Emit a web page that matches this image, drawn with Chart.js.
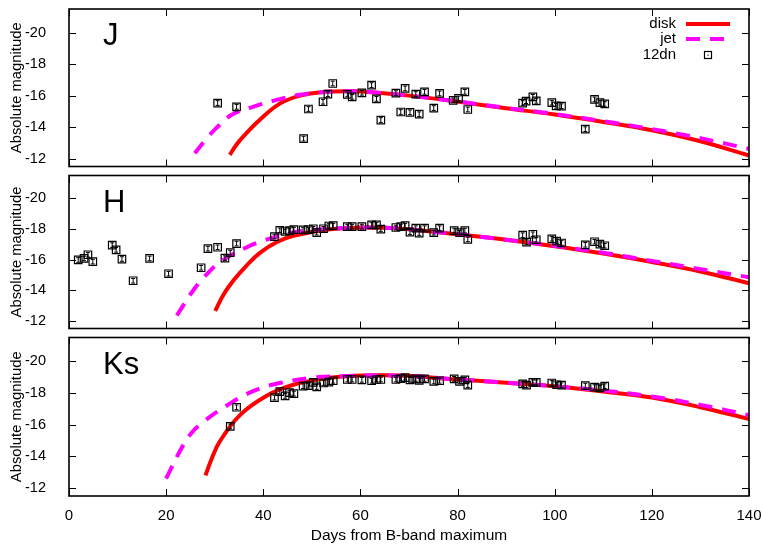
<!DOCTYPE html>
<html>
<head>
<meta charset="utf-8">
<script src="https://cdn.jsdelivr.net/npm/chart.js@4.4.0/dist/chart.umd.min.js"></script>
<style>
  html, body { margin: 0; padding: 0; background: #fff; }
  #wrap { position: relative; width: 763px; height: 545px; }
  canvas { position: absolute; left: 0; }
</style>
</head>
<body>
<div id="wrap">
  <canvas id="panelJ" width="763" height="173" style="top:0px"></canvas>
  <canvas id="panelH" width="763" height="166" style="top:169px"></canvas>
  <canvas id="panelKs" width="763" height="214" style="top:331px"></canvas>
</div>
<script>
// axis ticks
const xTicks = [0, 20, 40, 60, 80, 100, 120, 140];
const yTicks = [-20, -18, -16, -14, -12];
const ERR = 0.15; // typical photometric error (mag)

// J band observations (12dn)
const jDays = [30.6, 34.5, 48.3, 49.3, 52.3, 53.3, 54.3, 57.3, 58.3, 60.3, 62.3, 63.3, 64.2, 67.3, 68.3, 69.2, 70.2, 71.4, 72.1, 73.2, 75.1, 76.3, 79.1, 80.2, 81.5, 82.1, 93.4, 94.1, 95.5, 96.2, 99.4, 100.3, 101.4, 106.3, 108.2, 109.3, 110.3];
const jMag = [-15.53, -15.29, -13.27, -15.15, -15.61, -16.10, -16.77, -16.08, -15.92, -16.18, -16.67, -15.79, -14.45, -16.16, -14.96, -16.46, -14.94, -16.10, -14.82, -16.24, -15.21, -16.14, -15.70, -15.82, -16.24, -15.12, -15.53, -15.65, -15.92, -15.67, -15.55, -15.35, -15.33, -13.87, -15.76, -15.55, -15.47];

// H band observations
const hDays = [1.9, 3.1, 3.9, 4.9, 8.9, 9.7, 10.9, 13.2, 16.6, 20.5, 27.2, 28.6, 30.6, 32.1, 33.2, 34.5, 42.3, 43.4, 44.5, 45.4, 46.3, 48.2, 49.3, 50.3, 51.0, 52.4, 53.5, 54.4, 57.3, 58.3, 60.3, 62.3, 63.3, 64.2, 67.3, 68.3, 69.2, 70.2, 71.4, 72.1, 73.2, 75.1, 76.3, 79.3, 80.4, 81.5, 82.1, 93.4, 94.2, 95.5, 96.2, 99.4, 100.4, 101.4, 106.3, 108.2, 109.3, 110.3];
const hMag = [-15.98, -16.08, -16.32, -15.87, -16.95, -16.64, -16.04, -14.62, -16.08, -15.08, -15.47, -16.72, -16.81, -16.10, -16.46, -17.05, -17.51, -17.92, -17.84, -17.90, -17.96, -17.94, -17.96, -18.02, -17.76, -18.02, -18.20, -18.22, -18.16, -18.16, -18.16, -18.27, -18.27, -18.00, -18.10, -18.16, -18.22, -17.80, -18.06, -17.74, -18.06, -17.76, -18.06, -17.90, -17.76, -17.90, -17.33, -17.60, -17.15, -17.66, -17.30, -17.36, -17.21, -17.09, -16.97, -17.17, -17.01, -16.91];

// Ks band observations
const ksDays = [33.2, 34.5, 42.3, 43.4, 44.5, 45.4, 46.3, 48.2, 49.3, 50.3, 51.0, 52.4, 53.5, 54.4, 57.3, 58.3, 60.3, 62.3, 63.3, 64.2, 67.3, 68.3, 69.2, 70.2, 71.4, 72.1, 73.2, 75.1, 76.3, 79.3, 80.4, 81.5, 82.1, 93.4, 94.2, 95.5, 96.2, 99.4, 100.4, 101.4, 106.3, 108.2, 109.3, 110.3];
const ksMag = [-15.89, -17.10, -17.71, -18.08, -17.82, -18.02, -17.96, -18.43, -18.46, -18.67, -18.38, -18.63, -18.69, -18.77, -18.85, -18.85, -18.83, -18.77, -18.85, -18.85, -18.85, -18.91, -18.97, -18.83, -18.89, -18.79, -18.89, -18.73, -18.77, -18.89, -18.73, -18.83, -18.50, -18.57, -18.49, -18.67, -18.67, -18.63, -18.52, -18.49, -18.46, -18.37, -18.32, -18.43];

// model curves
const jDiskDays = [33.1, 34.5, 36, 39.3, 43.4, 47.6, 53, 58, 63, 70, 80, 90, 100, 110, 120, 130, 140];
const jDiskMag = [-12.24, -12.9, -13.45, -14.47, -15.49, -16.0, -16.24, -16.28, -16.2, -16.0, -15.62, -15.2, -14.8, -14.33, -13.8, -13.1, -12.2];
const jJetDays = [25.9, 28, 30.1, 33.5, 37.9, 42.4, 47.2, 53, 58, 63, 70, 80, 90, 100, 110, 120, 130, 140];
const jJetMag = [-12.34, -13.15, -13.87, -14.78, -15.29, -15.7, -16.04, -16.24, -16.28, -16.2, -16.0, -15.63, -15.22, -14.83, -14.38, -13.88, -13.3, -12.62];

const hDiskDays = [30.1, 31.8, 33.8, 36.6, 39.3, 42.8, 46.2, 53, 60, 65, 70, 80, 90, 100, 110, 120, 130, 140];
const hDiskMag = [-12.65, -13.71, -14.62, -15.63, -16.44, -17.15, -17.56, -17.96, -18.1, -18.08, -17.98, -17.65, -17.3, -16.88, -16.4, -15.85, -15.23, -14.46];
const hJetDays = [22.2, 25.6, 27.7, 31.1, 36.6, 42.1, 47.6, 53, 60, 65, 70, 80, 90, 100, 110, 120, 130, 140];
const hJetMag = [-12.35, -14.0, -14.82, -15.84, -16.81, -17.45, -17.86, -18.0, -18.1, -18.08, -17.98, -17.66, -17.3, -16.9, -16.45, -15.92, -15.38, -14.85];

const ksDiskDays = [28.1, 29.5, 31.1, 35.2, 40.7, 46.2, 53, 60, 65, 70, 80, 90, 100, 110, 120, 130, 140];
const ksDiskMag = [-12.8, -13.95, -14.97, -16.6, -17.82, -18.52, -18.93, -19.1, -19.12, -19.08, -18.85, -18.65, -18.43, -18.1, -17.71, -17.1, -16.36];
const ksJetDays = [20, 22.9, 25, 27.7, 32.5, 37.9, 43.4, 50.3, 57.2, 65, 70, 80, 90, 100, 110, 120, 130, 140];
const ksJetMag = [-12.6, -14.37, -15.4, -16.19, -17.21, -18.12, -18.63, -18.97, -19.07, -19.1, -19.07, -18.85, -18.65, -18.42, -18.15, -17.78, -17.25, -16.6];

Chart.defaults.font.family = '"Liberation Sans", Arial, sans-serif';
Chart.defaults.font.size = 14;
Chart.defaults.color = '#000';

const pts = (xs, ys) => xs.map((x, i) => ({ x, y: ys[i] }));

// error bars, frame, inward ticks, band letter and (optionally) the legend
const panelPlugin = {
  id: 'panel',
  afterDatasetsDraw(chart) {
    const ctx = chart.ctx;
    const ys = chart.scales.y;
    const meta = chart.getDatasetMeta(0);
    const mags = chart.data.datasets[0].data;
    ctx.save();
    ctx.strokeStyle = '#000';
    ctx.lineWidth = 1;
    meta.data.forEach((el, i) => {
      const m = mags[i].y;
      const y1 = ys.getPixelForValue(m - ERR), y2 = ys.getPixelForValue(m + ERR);
      ctx.beginPath();
      ctx.moveTo(el.x, y1); ctx.lineTo(el.x, y2);
      ctx.moveTo(el.x - 2, y1); ctx.lineTo(el.x + 2, y1);
      ctx.moveTo(el.x - 2, y2); ctx.lineTo(el.x + 2, y2);
      ctx.stroke();
    });
    ctx.restore();
  },
  afterDraw(chart, args, opts) {
    const ctx = chart.ctx;
    const { left, right, top, bottom } = chart.chartArea;
    const xs = chart.scales.x, ys = chart.scales.y;
    ctx.save();
    ctx.strokeStyle = '#000';
    ctx.lineWidth = 1;
    ctx.beginPath();
    xTicks.forEach(v => {
      const px = Math.round(xs.getPixelForValue(v)) + 0.5;
      ctx.moveTo(px, bottom); ctx.lineTo(px, bottom - 7);
      ctx.moveTo(px, top); ctx.lineTo(px, top + 7);
    });
    yTicks.forEach(v => {
      const py = Math.round(ys.getPixelForValue(v)) + 0.5;
      ctx.moveTo(left, py); ctx.lineTo(left + 7, py);
      ctx.moveTo(right, py); ctx.lineTo(right - 7, py);
    });
    ctx.stroke();
    ctx.lineWidth = 1.6;
    ctx.strokeRect(left, top, right - left, bottom - top);

    ctx.fillStyle = '#000';
    ctx.font = '31px "Liberation Sans", Arial, sans-serif';
    ctx.textAlign = 'left';
    ctx.textBaseline = 'alphabetic';
    ctx.fillText(opts.label, left + 34, top + 36);

    if (opts.legend) {
      ctx.font = '15px "Liberation Sans", Arial, sans-serif';
      ctx.textAlign = 'right';
      ctx.textBaseline = 'middle';
      const rows = [top + 15, top + 30, top + 46];
      ['disk', 'jet', '12dn'].forEach((t, i) => ctx.fillText(t, 676, rows[i]));
      ctx.lineWidth = 4;
      ctx.strokeStyle = '#ff0000';
      ctx.beginPath(); ctx.moveTo(686, rows[0]); ctx.lineTo(730, rows[0]); ctx.stroke();
      ctx.strokeStyle = '#ff00ff';
      ctx.setLineDash([14, 10]);
      ctx.beginPath(); ctx.moveTo(686, rows[1]); ctx.lineTo(730, rows[1]); ctx.stroke();
      ctx.setLineDash([]);
      ctx.strokeStyle = '#000';
      ctx.lineWidth = 1.2;
      ctx.strokeRect(704.5, rows[2] - 3.5, 7, 7);
      ctx.fillRect(707.5, rows[2] - 0.5, 1.2, 1.2);
    }
    ctx.restore();
  }
};

function makePanel(id, label, obs, jet, disk, showX, pad, legend) {
  const ctx = document.getElementById(id).getContext('2d');
  return new Chart(ctx, {
    type: 'scatter',
    data: {
      datasets: [
        {
          label: '12dn', data: obs, showLine: false,
          pointStyle: 'rect', pointRadius: 5.3, pointBorderWidth: 1.2,
          pointBorderColor: '#000', pointBackgroundColor: 'rgba(0,0,0,0)'
        },
        {
          label: 'jet', data: jet, showLine: true, borderColor: '#ff00ff',
          borderWidth: 4, borderDash: [14, 10], pointRadius: 0, tension: 0.4
        },
        {
          label: 'disk', data: disk, showLine: true, borderColor: '#ff0000',
          borderWidth: 4, pointRadius: 0, tension: 0.4
        }
      ]
    },
    options: {
      responsive: false,
      animation: false,
      events: [],
      layout: { padding: { left: 0, right: 14, top: pad[0], bottom: pad[1] } },
      plugins: {
        legend: { display: false },
        tooltip: { enabled: false },
        panel: { label, legend }
      },
      scales: {
        x: {
          type: 'linear', min: 0, max: 140, display: showX,
          grid: { display: false },
          border: { display: false },
          afterBuildTicks: a => { a.ticks = xTicks.map(v => ({ value: v })); },
          afterFit: a => {
            if (showX) a.height = 49;
            a.paddingLeft = 0; a.paddingRight = 0;
          },
          ticks: { padding: 3, maxRotation: 0, font: { size: 15 } },
          title: {
            display: true, text: 'Days from B-band maximum',
            font: { size: 15.5 }, padding: { top: 0, bottom: 0 }
          }
        },
        y: {
          type: 'linear', min: -21.5, max: -11.5, reverse: true,
          grid: { display: false },
          border: { display: false },
          afterBuildTicks: a => { a.ticks = yTicks.map(v => ({ value: v })); },
          afterFit: a => {
            a.width = 69;
            a.paddingTop = 0; a.paddingBottom = 0;
          },
          ticks: { padding: 15, font: { size: 14.5 } },
          title: {
            display: true, text: 'Absolute magnitude',
            font: { size: 14.8 }, padding: { top: 8, bottom: 0 }
          }
        }
      }
    },
    plugins: [panelPlugin]
  });
}

makePanel('panelJ', 'J', pts(jDays, jMag), pts(jJetDays, jJetMag), pts(jDiskDays, jDiskMag), false, [9, 2], true);
makePanel('panelH', 'H', pts(hDays, hMag), pts(hJetDays, hJetMag), pts(hDiskDays, hDiskMag), false, [2, 2], false);
makePanel('panelKs', 'Ks', pts(ksDays, ksMag), pts(ksJetDays, ksJetMag), pts(ksDiskDays, ksDiskMag), true, [3, 0], false);
</script>
</body>
</html>
